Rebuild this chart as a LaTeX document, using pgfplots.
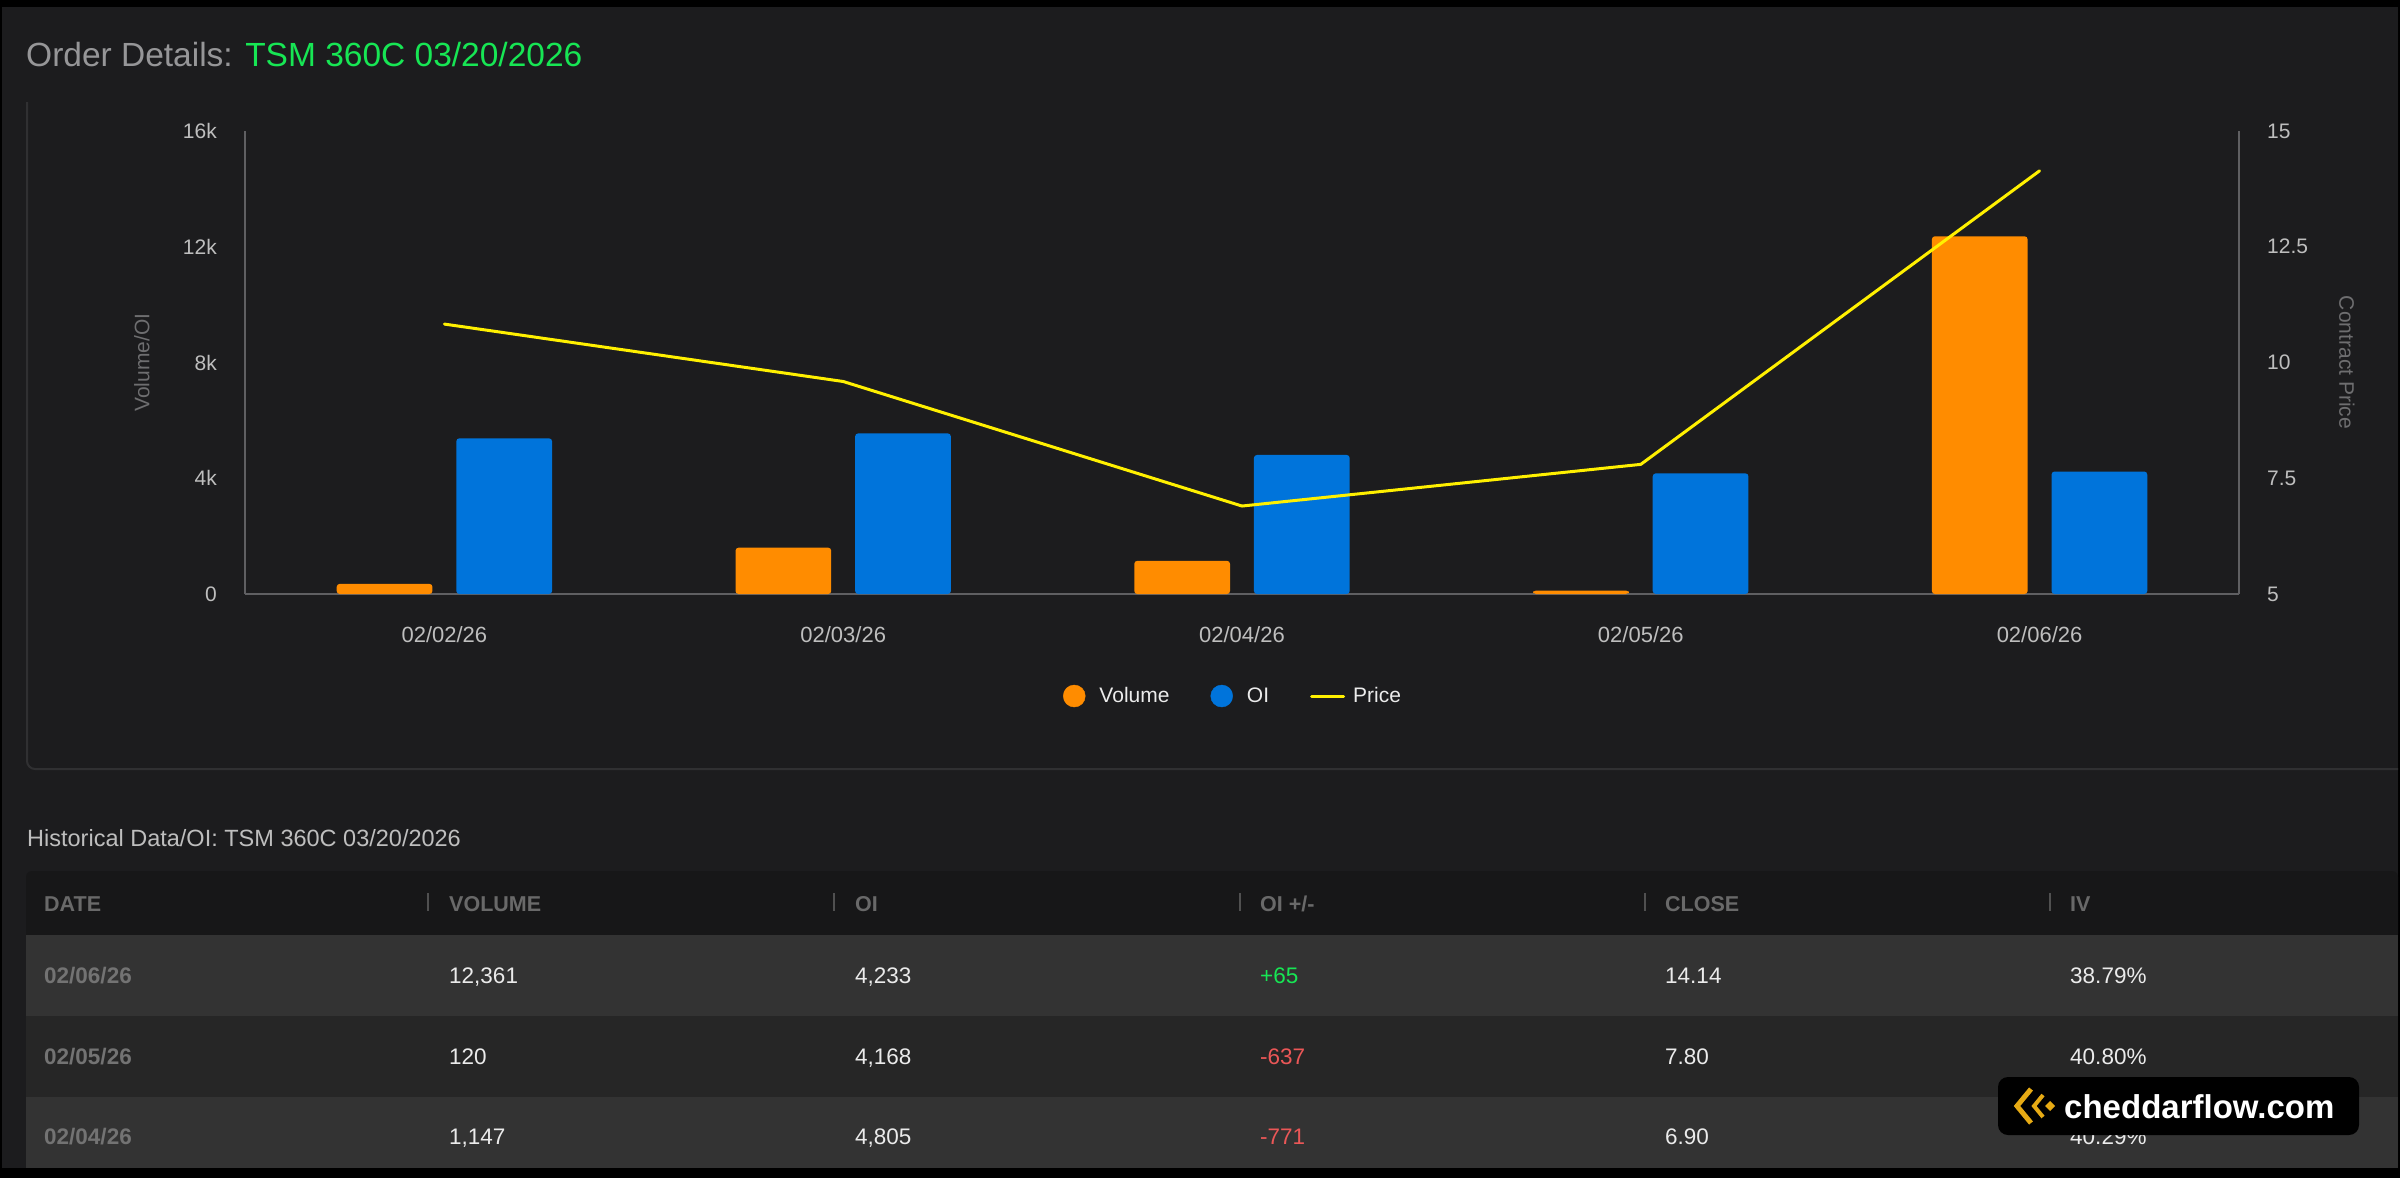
\documentclass[border=0pt]{standalone}
\usepackage{fontspec}
\setmainfont{Liberation Sans}
\usepackage{pgfplots}
\pgfplotsset{compat=1.18}
\definecolor{bg}{RGB}{28,28,30}
\definecolor{hdr}{RGB}{23,23,24}
\definecolor{rowA}{RGB}{51,51,51}
\definecolor{rowB}{RGB}{38,38,38}
\definecolor{volc}{RGB}{255,140,0}
\definecolor{oic}{RGB}{0,116,219}
\definecolor{pricec}{RGB}{255,240,0}
\definecolor{titlegreen}{RGB}{23,230,84}
\definecolor{titlegray}{RGB}{150,150,152}
\definecolor{axisgray}{RGB}{95,95,98}
\definecolor{tickgray}{RGB}{190,190,190}
\definecolor{labgray}{RGB}{110,110,112}
\definecolor{negred}{RGB}{235,87,87}
\definecolor{posgreen}{RGB}{23,230,84}
\definecolor{panelline}{RGB}{48,48,50}
\definecolor{hdrtext}{RGB}{105,105,105}
\definecolor{datetext}{RGB}{115,115,115}
\definecolor{celltext}{RGB}{235,235,235}
\definecolor{sepgray}{RGB}{80,80,80}
\definecolor{gold}{RGB}{230,170,20}
\newcommand{\fs}[1]{\fontsize{#1}{#1}\selectfont}
\newcommand{\cell}[4]{\node[anchor=base west, inner sep=0pt, text=#3, font=\fs{22.5}] at (#1,#2) {#4};}
\newcommand{\hcell}[2]{\node[anchor=base west, inner sep=0pt, text=hdrtext, font=\fs{21.5}\bfseries] at (#1,911.7) {#2};}
\begin{document}
\begin{tikzpicture}
\begin{scope}[x=1pt,y=-1pt]
\useasboundingbox (0,0) rectangle (2400,1178);
\fill[black] (0,0) rectangle (2400,1178);
\fill[bg] (2,7) rectangle (2398,1168);
% panel border
\draw[panelline, line width=2pt, rounded corners=8pt] (27,102) -- (27,769) -- (2398,769);
% title
\node[anchor=base west, inner sep=0pt, text=titlegray, font=\fs{33.5}] at (26,66.7) {Order Details: \textcolor{titlegreen}{TSM 360C 03/20/2026}};
% table
\node[anchor=base west, inner sep=0pt, text=tickgray, font=\fs{23.5}] at (27,846.7) {Historical Data/OI: TSM 360C 03/20/2026};
\fill[hdr, rounded corners=6pt] (26,871) rectangle (2398,940);
\fill[hdr] (26,900) rectangle (2398,935);
\fill[rowA] (26,935) rectangle (2398,1016);
\fill[rowB] (26,1016) rectangle (2398,1097);
\fill[rowA] (26,1097) rectangle (2398,1168);
\foreach \sx in {428,834,1240,1644.5,2050} {\draw[sepgray, line width=2pt] (\sx,893) -- (\sx,911);}
\hcell{44}{DATE}
\hcell{449}{VOLUME}
\hcell{855}{OI}
\hcell{1260}{OI +/-}
\hcell{1665}{CLOSE}
\hcell{2070}{IV}
\cell{44}{983.3}{datetext}{\bfseries 02/06/26}
\cell{449}{983.3}{celltext}{12,361}
\cell{855}{983.3}{celltext}{4,233}
\cell{1260}{983.3}{posgreen}{+65}
\cell{1665}{983.3}{celltext}{14.14}
\cell{2070}{983.3}{celltext}{38.79\%}
\cell{44}{1064}{datetext}{\bfseries 02/05/26}
\cell{449}{1064}{celltext}{120}
\cell{855}{1064}{celltext}{4,168}
\cell{1260}{1064}{negred}{-637}
\cell{1665}{1064}{celltext}{7.80}
\cell{2070}{1064}{celltext}{40.80\%}
\cell{44}{1144.3}{datetext}{\bfseries 02/04/26}
\cell{449}{1144.3}{celltext}{1,147}
\cell{855}{1144.3}{celltext}{4,805}
\cell{1260}{1144.3}{negred}{-771}
\cell{1665}{1144.3}{celltext}{6.90}
\cell{2070}{1144.3}{celltext}{40.29\%}
% watermark
\fill[black, rounded corners=10pt] (1998,1077) rectangle (2359,1135);
\draw[gold, line width=5pt, line join=miter] (2031,1089) -- (2017,1106) -- (2031,1123);
\draw[gold, line width=4pt, line join=miter] (2043,1095) -- (2034,1106) -- (2043,1117);
\fill[gold] (2050,1101) -- (2055,1106) -- (2050,1111) -- (2045,1106) -- cycle;
\node[anchor=base west, inner sep=0pt, text=white, font=\fs{33}\bfseries] at (2064,1118) {cheddarflow.com};
\end{scope}

\begin{axis}[
 at={(245pt,-594pt)}, anchor=south west,
 scale only axis, width=1994pt, height=463pt,
 xmin=-0.5, xmax=4.5, ymin=0, ymax=16000,
 axis x line*=bottom, axis y line*=left,
 axis line style={draw=axisgray, line width=1.5pt, -},
 major tick length=0pt,
 scaled y ticks=false,
 xtick={0,1,2,3,4}, xticklabels={02/02/26,02/03/26,02/04/26,02/05/26,02/06/26},
 ytick={0,4000,8000,12000,16000}, yticklabels={0,4k,8k,12k,16k},
 xticklabel style={font=\fs{22}, text=tickgray, inner sep=0pt, anchor=north, yshift=-32pt},
 yticklabel style={font=\fs{21}, text=tickgray, inner sep=0pt, anchor=east, xshift=-28pt},
 ylabel={Volume/OI},
 ylabel style={at={(axis description cs:-0.0517,0.5)}, anchor=center, font=\fs{21}, text=labgray},
 /pgf/number format/assume math mode=true,
]
\addplot[ybar, bar width=0.24, bar shift=-0.15, fill=volc, draw=none, rounded corners=3pt] coordinates {(0,350) (1,1600) (2,1147) (3,120) (4,12361)};
\addplot[ybar, bar width=0.24, bar shift=0.15, fill=oic, draw=none, rounded corners=3pt] coordinates {(0,5380) (1,5550) (2,4805) (3,4168) (4,4233)};
\end{axis}

\begin{axis}[
 at={(245pt,-594pt)}, anchor=south west,
 scale only axis, width=1994pt, height=463pt,
 xmin=-0.5, xmax=4.5, ymin=5, ymax=15,
 axis x line=none, axis y line*=right,
 axis line style={draw=axisgray, line width=1.5pt, -},
 major tick length=0pt,
 ytick={5,7.5,10,12.5,15}, yticklabels={5,7.5,10,12.5,15},
 yticklabel style={font=\fs{21}, text=tickgray, inner sep=0pt, anchor=west, xshift=28pt},
 ylabel={Contract Price},
 ylabel style={at={(axis description cs:1.0541,0.5)}, anchor=center, rotate=180, font=\fs{21}, text=labgray},
 /pgf/number format/assume math mode=true,
 legend columns=3,
 legend style={at={(0.4955,-0.2203)}, anchor=center, draw=none, fill=none, text=celltext, font=\fs{21},
   /tikz/every even column/.append style={column sep=39pt}},
]
\addlegendimage{legend image code/.code={\fill[volc] (0pt,0pt) circle (11pt); \path (23pt,0pt);}}
\addlegendentry{Volume}
\addlegendimage{legend image code/.code={\fill[oic] (0pt,0pt) circle (11pt); \path (23pt,0pt);}}
\addlegendentry{OI}
\addplot[pricec, line width=3pt, line join=round, line cap=round, mark=none,
  legend image code/.code={\draw[pricec, line width=3pt] (0pt,0pt) -- (32pt,0pt); \path (38pt,0pt);}]
  coordinates {(0,10.83) (1,9.59) (2,6.90) (3,7.80) (4,14.14)};
\addlegendentry{Price}
\end{axis}
\end{tikzpicture}
\end{document}
